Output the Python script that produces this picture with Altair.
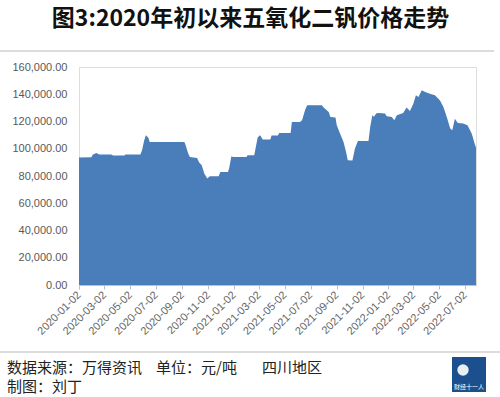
import altair as alt
import pandas as pd

dates = [
    "2020-01-02", "2020-01-31", "2020-02-04", "2020-02-12", "2020-02-19", "2020-03-18",
    "2020-03-23", "2020-04-18", "2020-04-21", "2020-05-26", "2020-05-30", "2020-06-04",
    "2020-06-08", "2020-06-14", "2020-06-17", "2020-09-07", "2020-09-10", "2020-09-16",
    "2020-09-20", "2020-10-07", "2020-10-12", "2020-10-18", "2020-10-24", "2020-10-31",
    "2020-11-06", "2020-11-27", "2020-12-01", "2020-12-19", "2020-12-22", "2020-12-27",
    "2020-12-31", "2021-02-01", "2021-02-03", "2021-02-19", "2021-02-22", "2021-02-27",
    "2021-03-04", "2021-03-07", "2021-03-11", "2021-03-29", "2021-04-01", "2021-04-16",
    "2021-04-19", "2021-05-16", "2021-05-19", "2021-06-07", "2021-06-12", "2021-06-19",
    "2021-06-24", "2021-07-29", "2021-08-02", "2021-08-14", "2021-08-18", "2021-08-30",
    "2021-09-02", "2021-09-10", "2021-09-18", "2021-09-24", "2021-09-28", "2021-10-09",
    "2021-10-15", "2021-10-22", "2021-11-16", "2021-11-20", "2021-11-25", "2021-11-29",
    "2021-12-04", "2021-12-09", "2021-12-25", "2021-12-29", "2022-01-10", "2022-01-16",
    "2022-01-22", "2022-02-06", "2022-02-14", "2022-02-22", "2022-03-02", "2022-03-08",
    "2022-03-14", "2022-03-22", "2022-03-30", "2022-04-10", "2022-04-22", "2022-05-04",
    "2022-05-12", "2022-05-20", "2022-05-28", "2022-06-02", "2022-06-08", "2022-06-15",
    "2022-06-28", "2022-07-08", "2022-07-18", "2022-07-26", "2022-07-28",
]
prices = [
    93500, 93700, 95700, 96900, 95700, 95700,
    95000, 95000, 95700, 95700, 98900, 106000,
    109900, 108000, 105000, 105000, 102600, 96500,
    94000, 93300, 90000, 87900, 81800, 78200,
    79900, 79900, 83000, 83000, 86000, 94500,
    94000, 94000, 95300, 95300, 100000, 108000,
    109900, 109000, 106700, 106700, 109700, 109700,
    111600, 111600, 119700, 119700, 121000, 128200,
    131900, 131900, 130200, 127000, 123300, 122900,
    117200, 111100, 105000, 97700, 91600, 91400,
    100100, 105700, 105700, 116000, 124500, 123500,
    125800, 126200, 125800, 123800, 123300, 120900,
    124500, 126200, 130200, 127700, 133100, 139200,
    138000, 142900, 141600, 140400, 139200, 135500,
    130600, 123300, 114800, 113600, 122100, 118900,
    118500, 117200, 111100, 102600, 101000,
]
tick_labels = [
    "2020-01-02", "2020-03-02", "2020-05-02", "2020-07-02", "2020-09-02", "2020-11-02",
    "2021-01-02", "2021-03-02", "2021-05-02", "2021-07-02", "2021-09-02", "2021-11-02",
    "2022-01-02", "2022-03-02", "2022-05-02", "2022-07-02",
]
y_ticks = [0, 20000, 40000, 60000, 80000, 100000, 120000, 140000, 160000]

title_text = "图3:2020年初以来五氧化二钒价格走势"
source_text = "数据来源：万得资讯"
unit_text = "单位：元/吨"
region_text = "四川地区"
author_text = "制图：刘丁"
logo_text = "财经十一人"

df = pd.DataFrame({"date": dates, "price": prices})


def ms(s):
    return int(pd.Timestamp(s, tz="UTC").value // 10**6)


tick_ms = [ms(t) for t in tick_labels]
x_domain = [ms(dates[0]), ms(dates[-1])]

CJK = "Noto Sans CJK SC"
LAB = "Liberation Sans"

area = alt.Chart(df).mark_area(color="#4a7ebb", opacity=1).encode(
    x=alt.X(
        "date:T",
        scale=alt.Scale(type="utc", domain=x_domain, nice=False),
        axis=alt.Axis(
            title=None,
            values=tick_ms,
            labelExpr="utcFormat(datum.value, '%Y-%m-%d')",
            labelAngle=-45,
            labelAlign="right",
            labelBaseline="middle",
            labelFont=LAB,
            labelFontSize=11,
            labelColor="#666666",
            labelPadding=4,
            domainColor="#bfbfbf",
            tickColor="#bfbfbf",
            tickSize=4,
            grid=False,
            labelOverlap=False,
        ),
    ),
    y=alt.Y(
        "price:Q",
        scale=alt.Scale(domain=[0, 160000], nice=False),
        axis=alt.Axis(
            title=None,
            values=y_ticks,
            format=",.2f",
            labelFont=LAB,
            labelFontSize=11,
            labelColor="#595959",
            labelPadding=12,
            domain=False,
            ticks=False,
            grid=False,
        ),
    ),
)


def txt(s, x, y, size=15, color="#222222", align="left", weight="normal"):
    return alt.Chart(pd.DataFrame({"t": [s]})).mark_text(
        font=CJK, fontSize=size, color=color, align=align, baseline="middle",
        fontWeight=weight,
    ).encode(text="t:N", x=alt.value(x), y=alt.value(y))


def hline(y, x1, x2):
    return alt.Chart(pd.DataFrame({"t": [0]})).mark_rule(
        color="#d0d0d0", strokeWidth=1.5
    ).encode(x=alt.value(x1), x2=alt.value(x2), y=alt.value(y))


logo = alt.Chart(pd.DataFrame({"t": [0]})).mark_rect(color="#1c4f8e").encode(
    x=alt.value(373), x2=alt.value(407), y=alt.value(290), y2=alt.value(325)
)
globe = alt.Chart(pd.DataFrame({"t": [0]})).mark_circle(
    color="white", opacity=0.9, size=130
).encode(x=alt.value(384), y=alt.value(303))

chart = alt.layer(
    area,
    hline(-16, -79, 415),
    hline(285, -79, 421),
    txt(source_text, -72, 301),
    txt(unit_text, 77, 301),
    txt(region_text, 183, 301),
    txt(author_text, -72, 320),
    logo,
    globe,
    txt(logo_text, 390, 320, size=6, color="white", align="center"),
).properties(
    width=397,
    height=218,
    title=alt.TitleParams(
        title_text, font=CJK, fontSize=23, fontWeight="bold", color="#111111",
        anchor="middle", frame="group", dx=-27, offset=19,
    ),
    padding={"left": 79, "top": 67, "right": 24, "bottom": 112},
    autosize=alt.AutoSizeParams(type="none"),
).configure_view(stroke=None).configure(background="white")

chart.save("out.html", embed_options={"renderer": "svg", "actions": False})
